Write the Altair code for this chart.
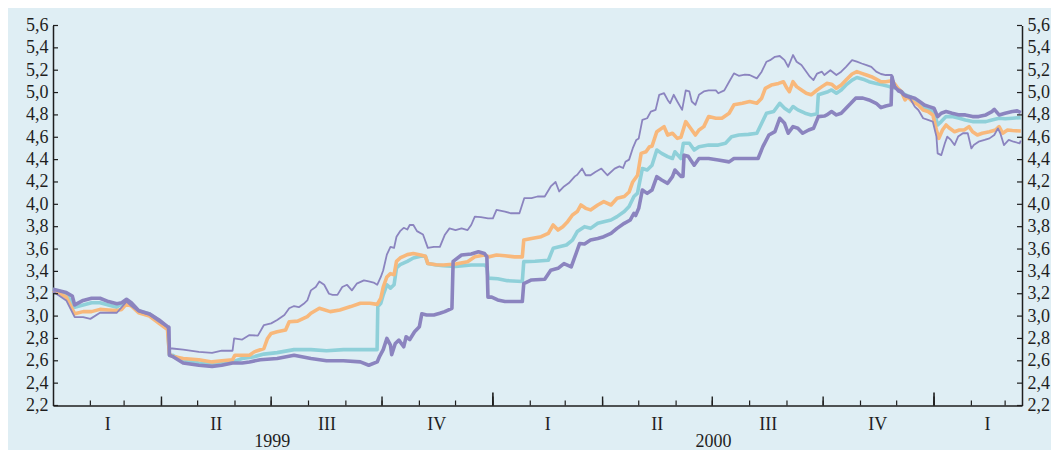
import altair as alt
import pandas as pd

START = "1999-01-01"

# days since 1999-01-01 and rates (%)
m1_days = [0, 11, 16, 18, 25, 32, 39, 46, 53, 57,
           61, 65, 71, 80, 88, 95, 96.2, 96.6, 99, 108,
           121, 132, 140, 149, 157, 163, 172, 186, 200, 214,
           227, 241, 255, 262, 269, 271, 274, 277, 280, 281,
           284, 287, 291, 293, 296, 300, 304, 306, 310, 316,
           321, 325, 331, 332, 339, 347, 353, 358, 360, 360.9,
           364, 369, 375, 383, 389.4, 390.6, 397, 408, 413, 419,
           424, 430, 434, 437, 441, 446, 452, 457, 463, 468,
           474, 479, 482, 483.4, 486, 489, 493, 497, 501, 505,
           510, 514, 516, 521, 522.7, 523.6, 527, 532, 536, 544,
           552, 561, 565, 572, 580, 585, 589, 594, 599, 603,
           607, 610, 614, 618, 622, 627, 631, 635, 640, 642,
           646, 650, 654, 658, 662, 666, 672, 677, 683, 687,
           691, 695.4, 696.1, 698, 701, 704, 706, 710, 715, 719,
           723, 727, 731, 734, 737, 741, 746, 752, 757, 763,
           768, 774, 779, 781, 785, 790, 796, 800, 803]
m1_vals = [3.24, 3.21, 3.18, 3.10, 3.14, 3.16, 3.16, 3.13, 3.11, 3.12,
           3.15, 3.12, 3.05, 3.02, 2.965, 2.905, 2.90, 2.65, 2.64, 2.58,
           2.56, 2.55, 2.56, 2.58, 2.58, 2.59, 2.61, 2.62, 2.65, 2.62,
           2.60, 2.60, 2.59, 2.56, 2.59, 2.64, 2.70, 2.80, 2.74, 2.655,
           2.755, 2.785, 2.725, 2.815, 2.79, 2.86, 2.905, 3.02, 3.01, 3.01,
           3.025, 3.04, 3.07, 3.49, 3.547, 3.556, 3.576, 3.56, 3.53, 3.17,
           3.17, 3.144, 3.13, 3.13, 3.13, 3.29, 3.323, 3.33, 3.41, 3.427,
           3.47, 3.44, 3.56, 3.65, 3.645, 3.68, 3.695, 3.71, 3.74, 3.785,
           3.83, 3.86, 3.92, 3.90, 3.964, 4.128, 4.098, 4.128, 4.248, 4.218,
           4.188, 4.248, 4.307, 4.25, 4.25, 4.44, 4.43, 4.35, 4.41, 4.41,
           4.397, 4.38, 4.41, 4.41, 4.41, 4.41, 4.516, 4.62, 4.65, 4.77,
           4.725, 4.636, 4.695, 4.68, 4.636, 4.665, 4.68, 4.785, 4.79, 4.80,
           4.83, 4.80, 4.815, 4.86, 4.904, 4.95, 4.95, 4.934, 4.904, 4.865,
           4.88, 4.89, 5.142, 5.053, 5.023, 5.008, 4.98, 4.964, 4.95, 4.92,
           4.889, 4.874, 4.86, 4.785, 4.815, 4.83, 4.815, 4.80, 4.80, 4.785,
           4.785, 4.80, 4.83, 4.85, 4.80, 4.815, 4.83, 4.836, 4.82]

m3_days = [0, 11, 18, 25, 32, 39, 46, 53, 61, 65,
           71, 80, 88, 95, 96.6, 99, 108, 121, 132, 140,
           149, 157, 163, 167, 175, 186, 200, 214, 227, 241,
           255, 268.9, 269.5, 272, 274, 277, 280, 283, 285, 288,
           294, 299, 305, 309, 311, 318, 324, 334, 347, 358,
           360, 361, 369, 377, 389.4, 390.6, 400, 411, 415, 420,
           426, 431, 435, 441, 446, 452, 457, 463, 468, 474,
           478, 482, 485, 486, 489, 493, 497, 501, 505, 510,
           514, 516, 521, 523, 528, 532, 536, 544, 552, 558,
           563, 569, 577, 584, 588, 592, 598, 603, 607, 611,
           614, 618, 624, 629, 634, 635, 639, 643, 646, 650,
           654, 658, 663, 667, 672, 677, 683, 689, 694, 700,
           704, 707, 711, 715, 719, 723, 727, 731, 734, 737,
           741, 746, 752, 757, 763, 768, 774, 779, 785, 790,
           796, 803]
m3_vals = [3.24, 3.20, 3.08, 3.10, 3.12, 3.12, 3.10, 3.08, 3.14, 3.10,
           3.045, 3.02, 2.96, 2.90, 2.65, 2.65, 2.60, 2.58, 2.575, 2.58,
           2.59, 2.62, 2.63, 2.637, 2.66, 2.673, 2.70, 2.70, 2.69, 2.70,
           2.70, 2.70, 3.085, 3.115, 3.19, 3.28, 3.25, 3.28, 3.43, 3.46,
           3.49, 3.52, 3.535, 3.535, 3.47, 3.457, 3.45, 3.445, 3.457, 3.457,
           3.44, 3.34, 3.334, 3.317, 3.31, 3.487, 3.49, 3.50, 3.606, 3.62,
           3.636, 3.68, 3.756, 3.80, 3.785, 3.83, 3.845, 3.86, 3.89, 3.935,
           3.98, 4.07, 4.10, 4.158, 4.32, 4.307, 4.35, 4.486, 4.456, 4.427,
           4.41, 4.47, 4.41, 4.546, 4.546, 4.486, 4.516, 4.53, 4.53, 4.546,
           4.605, 4.62, 4.626, 4.636, 4.725, 4.815, 4.83, 4.904, 4.86, 4.83,
           4.875, 4.845, 4.815, 4.80, 4.81, 4.98, 4.994, 5.008, 5.023, 4.994,
           5.023, 5.068, 5.112, 5.135, 5.12, 5.097, 5.082, 5.068, 5.053, 5.038,
           5.008, 4.98, 4.964, 4.934, 4.904, 4.86, 4.845, 4.83, 4.71, 4.74,
           4.785, 4.785, 4.77, 4.755, 4.74, 4.74, 4.74, 4.755, 4.77, 4.765,
           4.77, 4.776]

m6_days = [0, 11, 18, 25, 32, 39, 46, 53, 57, 61,
           65, 71, 80, 88, 95, 96.6, 99, 108, 121, 132,
           140, 149, 151, 157, 163, 167, 175, 178, 181, 186,
           193, 196, 203, 211, 214, 221, 230, 238, 247, 255,
           263, 269, 272, 274, 277, 280, 283, 285, 288, 294,
           299, 305, 309, 311, 318, 324, 334, 344, 350, 358,
           362, 368, 375, 383, 389.4, 390.6, 397, 405, 411, 415,
           419, 423, 427, 431, 435, 438, 442, 446, 452, 457,
           463, 468, 474, 478, 481, 485, 488, 492, 495, 497,
           501, 507, 510, 514, 518, 521, 525, 529, 533, 536,
           540, 544, 550, 555, 561, 565, 572, 578, 584, 588,
           591, 596, 602, 606, 609, 611, 614, 617, 621, 625,
           629, 634, 638, 642, 646, 650, 654, 658, 663, 667,
           671, 675, 679, 683, 687, 691, 696, 698, 701, 704,
           707, 709, 713, 718, 722, 726, 730, 733, 735, 738,
           741, 744, 748, 752, 756, 760, 763, 767, 771, 777,
           782, 785, 788, 792, 796, 803]
m6_vals = [3.23, 3.17, 3.02, 3.04, 3.04, 3.06, 3.055, 3.05, 3.06, 3.11,
           3.09, 3.03, 3.00, 2.935, 2.88, 2.66, 2.64, 2.62, 2.61, 2.59,
           2.60, 2.61, 2.65, 2.65, 2.65, 2.68, 2.71, 2.80, 2.845, 2.86,
           2.875, 2.95, 2.955, 2.995, 3.025, 3.07, 3.04, 3.055, 3.085, 3.115,
           3.115, 3.105, 3.16, 3.26, 3.35, 3.38, 3.37, 3.49, 3.52, 3.55,
           3.56, 3.547, 3.535, 3.47, 3.46, 3.457, 3.466, 3.487, 3.53, 3.547,
           3.53, 3.547, 3.54, 3.53, 3.53, 3.68, 3.695, 3.71, 3.74, 3.815,
           3.77, 3.80, 3.845, 3.905, 3.935, 3.994, 3.964, 3.95, 3.994, 4.024,
           3.994, 4.054, 4.07, 4.11, 4.20, 4.26, 4.456, 4.47, 4.516, 4.52,
           4.65, 4.695, 4.62, 4.636, 4.59, 4.60, 4.74, 4.68, 4.62, 4.665,
           4.695, 4.785, 4.77, 4.77, 4.815, 4.89, 4.904, 4.92, 4.904, 4.95,
           5.038, 5.067, 5.082, 5.097, 5.038, 5.008, 5.097, 5.053, 5.023, 4.994,
           4.98, 5.023, 5.053, 5.082, 5.075, 5.038, 5.068, 5.112, 5.166, 5.187,
           5.172, 5.157, 5.142, 5.12, 5.097, 5.097, 5.105, 5.082, 5.038, 5.008,
           4.934, 4.964, 4.92, 4.889, 4.844, 4.83, 4.80, 4.665, 4.59, 4.665,
           4.71, 4.68, 4.65, 4.665, 4.665, 4.695, 4.65, 4.62, 4.636, 4.65,
           4.665, 4.695, 4.636, 4.665, 4.66, 4.656]

m12_days = [0, 11, 18, 25, 31, 39, 46, 53, 61, 65,
            71, 80, 88, 95, 96.6, 99, 108, 121, 132, 140,
            149, 150.3, 157, 163, 170, 175, 181, 186, 192, 196,
            200, 204, 208, 211, 214, 218, 221, 225, 229, 232,
            236, 240, 244, 248, 252, 258, 262, 266, 269, 272,
            274, 277, 280, 283, 285, 288, 291, 294, 296, 299,
            302, 307, 311, 316, 321, 325, 329, 334, 339, 344,
            347, 350, 355, 361, 365, 368, 375, 380, 387, 391,
            397, 402, 408, 413, 417, 420, 424, 428, 433, 435,
            439, 442, 446, 450, 455, 460, 466, 470, 473, 475,
            478, 481, 484, 486, 489, 493, 496, 500, 503, 507,
            510, 512, 515, 518, 522, 525, 528, 530, 533, 536,
            540, 544, 550, 552, 557, 561, 565, 569, 574, 578,
            584, 588, 592, 595, 599, 603, 607, 610, 614, 617,
            621, 624, 628, 631, 634, 638, 640, 645, 650, 654,
            658, 663, 667, 671, 675, 679, 683, 687, 691, 696,
            698, 701, 704, 707, 711, 715, 718, 722, 726, 730,
            733, 734, 737, 740, 742, 745, 748, 751, 755, 759,
            762, 764, 768, 773, 777, 781, 784, 786, 789, 793,
            797, 802, 803]
m12_vals = [3.22, 3.14, 2.99, 2.99, 2.975, 3.03, 3.03, 3.03, 3.13, 3.09,
            3.04, 3.01, 2.95, 2.90, 2.71, 2.71, 2.70, 2.68, 2.67, 2.69,
            2.69, 2.80, 2.79, 2.83, 2.825, 2.92, 2.935, 2.965, 3.01, 3.07,
            3.09, 3.08, 3.11, 3.14, 3.23, 3.26, 3.31, 3.28, 3.20, 3.19,
            3.19, 3.26, 3.28, 3.23, 3.29, 3.32, 3.31, 3.30, 3.28, 3.35,
            3.41, 3.55, 3.62, 3.61, 3.71, 3.76, 3.79, 3.775, 3.815, 3.815,
            3.76, 3.73, 3.61, 3.62, 3.62, 3.725, 3.785, 3.77, 3.785, 3.77,
            3.815, 3.89, 3.885, 3.875, 3.875, 3.95, 3.935, 3.92, 3.92, 4.055,
            4.055, 4.07, 4.07, 4.16, 4.20, 4.115, 4.16, 4.19, 4.25, 4.265,
            4.32, 4.26, 4.26, 4.29, 4.32, 4.26, 4.32, 4.34, 4.325, 4.38,
            4.40, 4.50, 4.576, 4.59, 4.755, 4.77, 4.83, 4.845, 4.98, 4.994,
            4.934, 4.904, 4.98, 4.92, 4.845, 5.02, 5.01, 4.92, 4.89, 4.98,
            5.01, 5.02, 5.02, 4.994, 5.02, 5.097, 5.172, 5.15, 5.16, 5.157,
            5.127, 5.187, 5.276, 5.29, 5.32, 5.327, 5.29, 5.23, 5.336, 5.276,
            5.246, 5.202, 5.142, 5.112, 5.17, 5.187, 5.157, 5.20, 5.157, 5.187,
            5.23, 5.29, 5.276, 5.26, 5.246, 5.23, 5.187, 5.166, 5.157, 5.157,
            5.08, 5.008, 4.994, 4.964, 4.95, 4.874, 4.844, 4.77, 4.755, 4.74,
            4.606, 4.456, 4.44, 4.546, 4.606, 4.576, 4.53, 4.606, 4.636, 4.636,
            4.50, 4.53, 4.56, 4.576, 4.59, 4.62, 4.68, 4.636, 4.53, 4.576,
            4.56, 4.546, 4.57]

y_ticks = [2.2, 2.4, 2.6, 2.8, 3.0, 3.2, 3.4, 3.6, 3.8, 4.0, 4.2, 4.4, 4.6, 4.8, 5.0, 5.2, 5.4, 5.6]
quarter_mid = ["1999-02-15", "1999-05-16", "1999-08-16", "1999-11-15",
               "2000-02-15", "2000-05-16", "2000-08-16", "2000-11-15", "2001-02-14"]
year_mid = ["1999-07-02", "2000-07-02"]
year_labels = ["1999", "2000"]
x_start = "1999-01-01"
x_end = "2001-03-15"

BG = "#dfeef4"
INK = "#1e1e1e"
FONT = "Liberation Serif"
PURPLE = "#8b84bf"
ORANGE = "#f8b87b"
CYAN = "#8fd0d9"

W, H = 969, 380


def frame(days, vals):
    assert len(days) == len(vals)
    d = pd.DataFrame({"day": days, "value": vals})
    d["date"] = pd.Timestamp(START) + pd.to_timedelta(d["day"], unit="D")
    return d[["date", "value"]]


def dt(s):
    t = pd.Timestamp(s)
    return alt.DateTime(year=t.year, month=t.month, date=t.day)


xscale = alt.Scale(domain=[dt(x_start), dt(x_end)])
yscale = alt.Scale(domain=[2.2, 5.6], nice=False, zero=False)

x_axis = alt.Axis(values=[dt(s) for s in quarter_mid],
                  labelExpr="['I','II','III','IV'][floor(month(datum.value)/3)]",
                  tickSize=0, grid=False, title=None, labelAngle=0,
                  labelFont=FONT, labelFontSize=18, labelColor=INK, labelPadding=10,
                  labelFlush=False, labelOverlap=False,
                  domainColor=INK, domainWidth=1.5)
lbl = "replace(format(datum.value, '.1f'), '.', ',')"
left_axis = alt.Axis(orient="left", values=y_ticks, labelExpr=lbl, tickSize=0, grid=False,
                     title=None, labelFont=FONT, labelFontSize=18, labelColor=INK,
                     labelPadding=5, domainColor=INK, domainWidth=1.5, labelFlush=False,
                     labelOverlap=False)
right_axis = alt.Axis(orient="right", values=y_ticks, labelExpr=lbl, tickSize=0, grid=False,
                      title=None, labelFont=FONT, labelFontSize=18, labelColor=INK,
                      labelPadding=5, domainColor=INK, domainWidth=1.5, labelFlush=False,
                      labelOverlap=False)

X = alt.X("date:T", scale=xscale, axis=x_axis)
Y = alt.Y("value:Q", scale=yscale, axis=left_axis)


def line(days, vals, color, width):
    return alt.Chart(frame(days, vals)).mark_line(
        color=color, strokeWidth=width, strokeJoin="round").encode(x=X, y=Y)


months = pd.DataFrame({"date": pd.date_range("1999-02-01", "2001-03-01", freq="MS")})
quarters = pd.DataFrame({"date": pd.date_range("1999-04-01", "2001-01-01", freq="QS")})
years = pd.DataFrame({"date": pd.to_datetime(["2000-01-01", "2001-01-01"])})
ytk = pd.DataFrame({"value": y_ticks})
yl = pd.DataFrame({"date": pd.to_datetime(year_mid), "label": year_labels})

month_ticks = alt.Chart(months).mark_rule(color=INK, strokeWidth=1.2).encode(
    x=X, y=alt.value(H), y2=alt.value(H - 5))
quarter_ticks = alt.Chart(quarters).mark_rule(color=INK, strokeWidth=1.4).encode(
    x=X, y=alt.value(H), y2=alt.value(H - 9))
year_ticks = alt.Chart(years).mark_rule(color=INK, strokeWidth=1.6).encode(
    x=X, y=alt.value(H), y2=alt.value(H - 13))
left_ticks = alt.Chart(ytk).mark_rule(color=INK, strokeWidth=1.2).encode(
    y=Y, x=alt.value(0), x2=alt.value(5))
year_text = alt.Chart(yl).mark_text(font=FONT, fontSize=18, color=INK, baseline="middle").encode(
    x=X, y=alt.value(H + 36), text="label:N")

inner = alt.layer(
    line(m3_days, m3_vals, CYAN, 3.6),
    line(m6_days, m6_vals, ORANGE, 3.6),
    line(m1_days, m1_vals, PURPLE, 3.6),
    line(m12_days, m12_vals, PURPLE, 1.8),
    month_ticks, quarter_ticks, year_ticks, left_ticks, year_text,
)

right_ticks = alt.Chart(ytk).mark_rule(color=INK, strokeWidth=1.2).encode(
    y=alt.Y("value:Q", scale=yscale, axis=right_axis), x=alt.value(W), x2=alt.value(W - 5))

chart = alt.layer(inner, right_ticks).resolve_axis(y="independent").properties(
    width=W, height=H,
    autosize=alt.AutoSizeParams(type="none"),
    padding={"left": 45, "top": 17.5, "right": 1043 - 45 - W, "bottom": 44.5},
    background=BG,
).configure_view(stroke=None)

chart.save("out.html", embed_options={"renderer": "svg", "actions": False})
